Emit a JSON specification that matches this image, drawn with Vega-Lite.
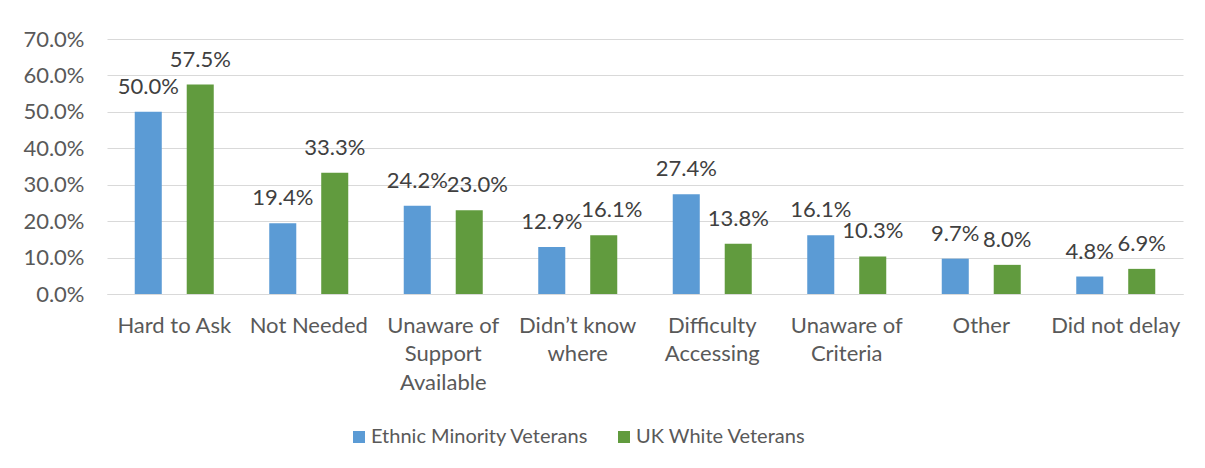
{
  "$schema": "https://vega.github.io/schema/vega-lite/v6.json",
  "width": 1076,
  "height": 255,
  "autosize": {"type": "none"},
  "padding": {"left": 107, "top": 39, "right": 22, "bottom": 174},
  "background": "white",
  "config": {
    "view": {"stroke": null},
    "font": "Lato",
    "text": {"font": "Lato"}
  },
  "data": {
    "values": [
      {"reason": "Hard to Ask", "group": "Ethnic Minority Veterans", "value": 0.500},
      {"reason": "Hard to Ask", "group": "UK White Veterans", "value": 0.575},
      {"reason": "Not Needed", "group": "Ethnic Minority Veterans", "value": 0.194},
      {"reason": "Not Needed", "group": "UK White Veterans", "value": 0.333},
      {"reason": "Unaware of Support Available", "group": "Ethnic Minority Veterans", "value": 0.242},
      {"reason": "Unaware of Support Available", "group": "UK White Veterans", "value": 0.230},
      {"reason": "Didn’t know where", "group": "Ethnic Minority Veterans", "value": 0.129},
      {"reason": "Didn’t know where", "group": "UK White Veterans", "value": 0.161},
      {"reason": "Difficulty Accessing", "group": "Ethnic Minority Veterans", "value": 0.274},
      {"reason": "Difficulty Accessing", "group": "UK White Veterans", "value": 0.138},
      {"reason": "Unaware of Criteria", "group": "Ethnic Minority Veterans", "value": 0.161},
      {"reason": "Unaware of Criteria", "group": "UK White Veterans", "value": 0.103},
      {"reason": "Other", "group": "Ethnic Minority Veterans", "value": 0.097},
      {"reason": "Other", "group": "UK White Veterans", "value": 0.080},
      {"reason": "Did not delay", "group": "Ethnic Minority Veterans", "value": 0.048},
      {"reason": "Did not delay", "group": "UK White Veterans", "value": 0.069}
    ]
  },
  "encoding": {
    "x": {
      "field": "reason",
      "type": "nominal",
      "sort": null,
      "scale": {"paddingInner": 0.4126, "paddingOuter": 0.2063},
      "axis": {
        "title": null,
        "labelAngle": 0,
        "ticks": false,
        "domain": true,
        "domainColor": "#D9D9D9",
        "domainWidth": 1,
        "labelPadding": 21,
        "labelBaseline": "top",
        "labelFontSize": 22,
        "labelColor": "#595959",
        "labelLineHeight": 28.5,
        "labelFont": "Lato",
        "labelLimit": 300,
        "labelExpr": "datum.value == 'Unaware of Support Available' ? ['Unaware of', 'Support', 'Available'] : datum.value == 'Difficulty Accessing' ? ['Difficulty', 'Accessing'] : datum.value == 'Unaware of Criteria' ? ['Unaware of', 'Criteria'] : datum.value == 'Didn’t know where' ? ['Didn’t know', 'where'] : datum.value"
      }
    },
    "xOffset": {
      "field": "group",
      "type": "nominal",
      "sort": ["Ethnic Minority Veterans", "UK White Veterans"],
      "scale": {"paddingInner": 0.48, "paddingOuter": 0}
    },
    "y": {
      "field": "value",
      "type": "quantitative",
      "scale": {"domain": [0, 0.7], "nice": false},
      "axis": {
        "title": null,
        "values": [0, 0.1, 0.2, 0.3, 0.4, 0.5, 0.6, 0.7],
        "format": ".1%",
        "ticks": false,
        "domain": false,
        "grid": true,
        "gridColor": "#D9D9D9",
        "gridWidth": 1,
        "labelPadding": 23,
        "labelFontSize": 22,
        "labelColor": "#595959",
        "labelFont": "Lato"
      }
    }
  },
  "layer": [
    {
      "mark": {"type": "bar"},
      "encoding": {
        "color": {
          "field": "group",
          "type": "nominal",
          "sort": ["Ethnic Minority Veterans", "UK White Veterans"],
          "scale": {"domain": ["Ethnic Minority Veterans", "UK White Veterans"], "range": ["#5B9BD5", "#619B3E"]},
          "legend": {
            "title": null,
            "orient": "none",
            "direction": "horizontal",
            "legendX": 242,
            "legendY": 388,
            "symbolType": "square",
            "symbolSize": 144,
            "symbolStrokeWidth": 0,
            "labelFontSize": 20,
            "labelColor": "#595959",
            "labelFont": "Lato",
            "labelOffset": 2,
            "columnPadding": 25,
            "labelLimit": 400
          }
        }
      }
    },
    {
      "transform": [{"filter": "!(datum.group == 'UK White Veterans' && (datum.reason == 'Unaware of Support Available' || datum.reason == 'Didn’t know where'))"}],
      "mark": {"type": "text", "baseline": "alphabetic", "dy": -18, "fontSize": 22, "color": "#404040", "font": "Lato"},
      "encoding": {
        "text": {"field": "value", "type": "quantitative", "format": ".1%"}
      }
    },
    {
      "transform": [{"filter": "datum.group == 'UK White Veterans' && (datum.reason == 'Unaware of Support Available' || datum.reason == 'Didn’t know where')"}],
      "mark": {"type": "text", "baseline": "alphabetic", "dy": -18, "dx": 8, "fontSize": 22, "color": "#404040", "font": "Lato"},
      "encoding": {
        "text": {"field": "value", "type": "quantitative", "format": ".1%"}
      }
    }
  ]
}
